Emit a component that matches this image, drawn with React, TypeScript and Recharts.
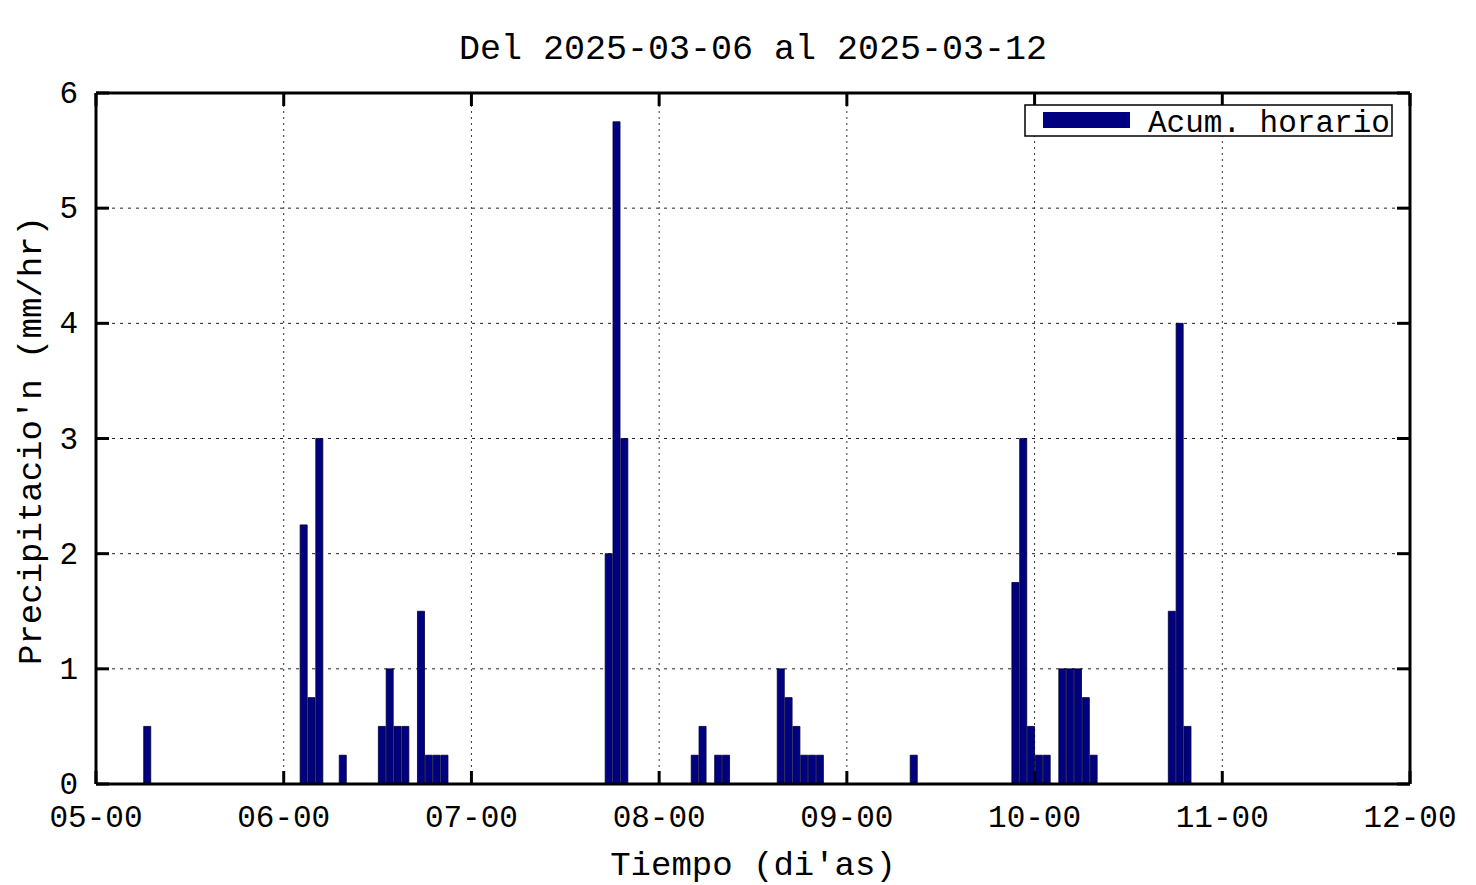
import React from 'react';
import { BarChart, Bar, XAxis, YAxis, CartesianGrid, Legend, Label } from 'recharts';

const titleText = 'Del 2025-03-06 al 2025-03-12';
const xLabelText = "Tiempo (di'as)";
const yLabelText = "Precipitacio'n (mm/hr)";
const seriesName = 'Acum. horario';

// hours since 05-00 (bar centre) and hourly accumulated precipitation
const hours = [
  6.6, 26.6, 27.6, 28.6, 31.6, 36.6, 37.6, 38.6, 39.6, 41.6, 42.6, 43.6, 44.6,
  65.6, 66.6, 67.6, 76.6, 77.6, 79.6, 80.6, 87.6, 88.6, 89.6, 90.6, 91.6, 92.6,
  104.6, 117.6, 118.6, 119.6, 120.6, 121.6, 123.6, 124.6, 125.6, 126.6, 127.6,
  137.6, 138.6, 139.6,
];
const values = [
  0.5, 2.25, 0.75, 3.0, 0.25, 0.5, 1.0, 0.5, 0.5, 1.5, 0.25, 0.25, 0.25,
  2.0, 5.75, 3.0, 0.25, 0.5, 0.25, 0.25, 1.0, 0.75, 0.5, 0.25, 0.25, 0.25,
  0.25, 1.75, 3.0, 0.5, 0.25, 0.25, 1.0, 1.0, 1.0, 0.75, 0.25,
  1.5, 4.0, 0.5,
];
const dayTickHours = [0, 24, 48, 72, 96, 120, 144, 168];
const dayTickLabels = ['05-00', '06-00', '07-00', '08-00', '09-00', '10-00', '11-00', '12-00'];
const yTicks = [0, 1, 2, 3, 4, 5, 6];

const data = hours.map((h, i) => ({ h, v: values[i] }));

const FONT = '"Liberation Mono", "Courier New", monospace';
const TICK_LEN = 13;
const TICK_W = 3;

const labelFor = (v: number) => {
  const i = dayTickHours.indexOf(v);
  return i >= 0 ? dayTickLabels[i] : String(v);
};

const BottomTick = (props: any) => {
  const { x, y, payload } = props;
  return (
    <g>
      <line x1={x} x2={x} y1={y} y2={y - TICK_LEN} stroke="#000" strokeWidth={TICK_W} />
      <text x={x} y={y + 43} textAnchor="middle" fontSize={31} fontFamily={FONT} fill="#000">
        {labelFor(payload.value)}
      </text>
    </g>
  );
};

const TopTick = (props: any) => {
  const { x, y } = props;
  return <line x1={x} x2={x} y1={y} y2={y + TICK_LEN} stroke="#000" strokeWidth={TICK_W} />;
};

const LeftTick = (props: any) => {
  const { x, y, payload } = props;
  return (
    <g>
      <line x1={x} x2={x + TICK_LEN} y1={y} y2={y} stroke="#000" strokeWidth={TICK_W} />
      <text x={x - 18} y={y + 10} textAnchor="end" fontSize={31} fontFamily={FONT} fill="#000">
        {payload.value}
      </text>
    </g>
  );
};

const RightTick = (props: any) => {
  const { x, y } = props;
  return <line x1={x - TICK_LEN} x2={x} y1={y} y2={y} stroke="#000" strokeWidth={TICK_W} />;
};

const LegendBox = (props: any) => {
  const item = props.payload && props.payload[0];
  const color = item?.color || '#000080';
  const name = item?.value || seriesName;
  return (
    <svg width={380} height={44} style={{ display: 'block', overflow: 'visible' }}>
      <rect x={1} y={1} width={367} height={31} fill="#fff" stroke="#000" strokeWidth={1.5} />
      <rect x={19} y={8} width={87} height={16} fill={color} />
      <text x={124} y={28} fontSize={31} fontFamily={FONT} fill="#000">
        {name}
      </text>
    </svg>
  );
};

export default function App() {
  return (
    <div style={{ width: 1460, height: 877, background: '#fff' }}>
      <BarChart
        width={1460}
        height={877}
        data={data}
        margin={{ top: 0, right: 0, bottom: 0, left: 0 }}
      >
        <CartesianGrid
          xAxisId="bottom"
          yAxisId="left"
          vertical={false}
          stroke="#222"
          strokeDasharray="3 5"
        />
        <CartesianGrid
          xAxisId="bottom"
          yAxisId="left"
          horizontal={false}
          stroke="#333"
          strokeDasharray="2 4"
        />
        <XAxis
          xAxisId="bottom"
          dataKey="h"
          type="number"
          domain={[0, 168]}
          ticks={dayTickHours}
          interval={0}
          orientation="bottom"
          height={101}
          tickSize={0}
          tickMargin={0}
          tickLine={false}
          tick={BottomTick}
          axisLine={{ stroke: '#000', strokeWidth: 3 }}
        >
          <Label
            content={(p: any) => {
              const vb = p.viewBox;
              return (
                <text x={vb.x + vb.width / 2} y={vb.y + 91} textAnchor="middle" fontSize={34} fontFamily={FONT} fill="#000">
                  {xLabelText}
                </text>
              );
            }}
          />
        </XAxis>
        <XAxis
          xAxisId="top"
          dataKey="h"
          type="number"
          domain={[0, 168]}
          ticks={dayTickHours}
          interval={0}
          orientation="top"
          height={85}
          tickSize={0}
          tickMargin={0}
          tickLine={false}
          tick={TopTick}
          allowDataOverflow
          axisLine={{ stroke: '#000', strokeWidth: 3 }}
        >
          <Label
            content={(p: any) => {
              const vb = p.viewBox;
              return (
                <text x={vb.x + vb.width / 2} y={51} textAnchor="middle" fontSize={35} fontFamily={FONT} fill="#000">
                  {titleText}
                </text>
              );
            }}
          />
        </XAxis>
        <YAxis
          yAxisId="left"
          type="number"
          domain={[0, 6]}
          ticks={yTicks}
          interval={0}
          width={88}
          tickSize={0}
          tickMargin={0}
          tickLine={false}
          tick={LeftTick}
          axisLine={{ stroke: '#000', strokeWidth: 3 }}
        >
          <Label
            content={(p: any) => {
              const vb = p.viewBox;
              const cy = vb.y + vb.height / 2 + 2;
              return (
                <text
                  x={33}
                  y={cy}
                  transform={`rotate(-90, 33, ${cy})`}
                  textAnchor="middle"
                  fontSize={34}
                  fontFamily={FONT}
                  fill="#000"
                >
                  {yLabelText}
                </text>
              );
            }}
          />
        </YAxis>
        <YAxis
          yAxisId="right"
          orientation="right"
          dataKey="v"
          type="number"
          domain={[0, 6]}
          ticks={yTicks}
          interval={0}
          width={58}
          tickSize={0}
          tickMargin={0}
          tickLine={false}
          tick={RightTick}
          allowDataOverflow
          axisLine={{ stroke: '#000', strokeWidth: 3 }}
        />
        <Legend
          layout="vertical"
          align="center"
          verticalAlign="middle"
          wrapperStyle={{ left: 1016, top: 96, width: 380, height: 44 }}
          content={LegendBox}
        />
        <Bar
          xAxisId="bottom"
          yAxisId="left"
          dataKey="v"
          name={seriesName}
          fill="#000080"
          stroke="#000033"
          strokeWidth={0.8}
          barSize={8}
          isAnimationActive={false}
        />
      </BarChart>
    </div>
  );
}
